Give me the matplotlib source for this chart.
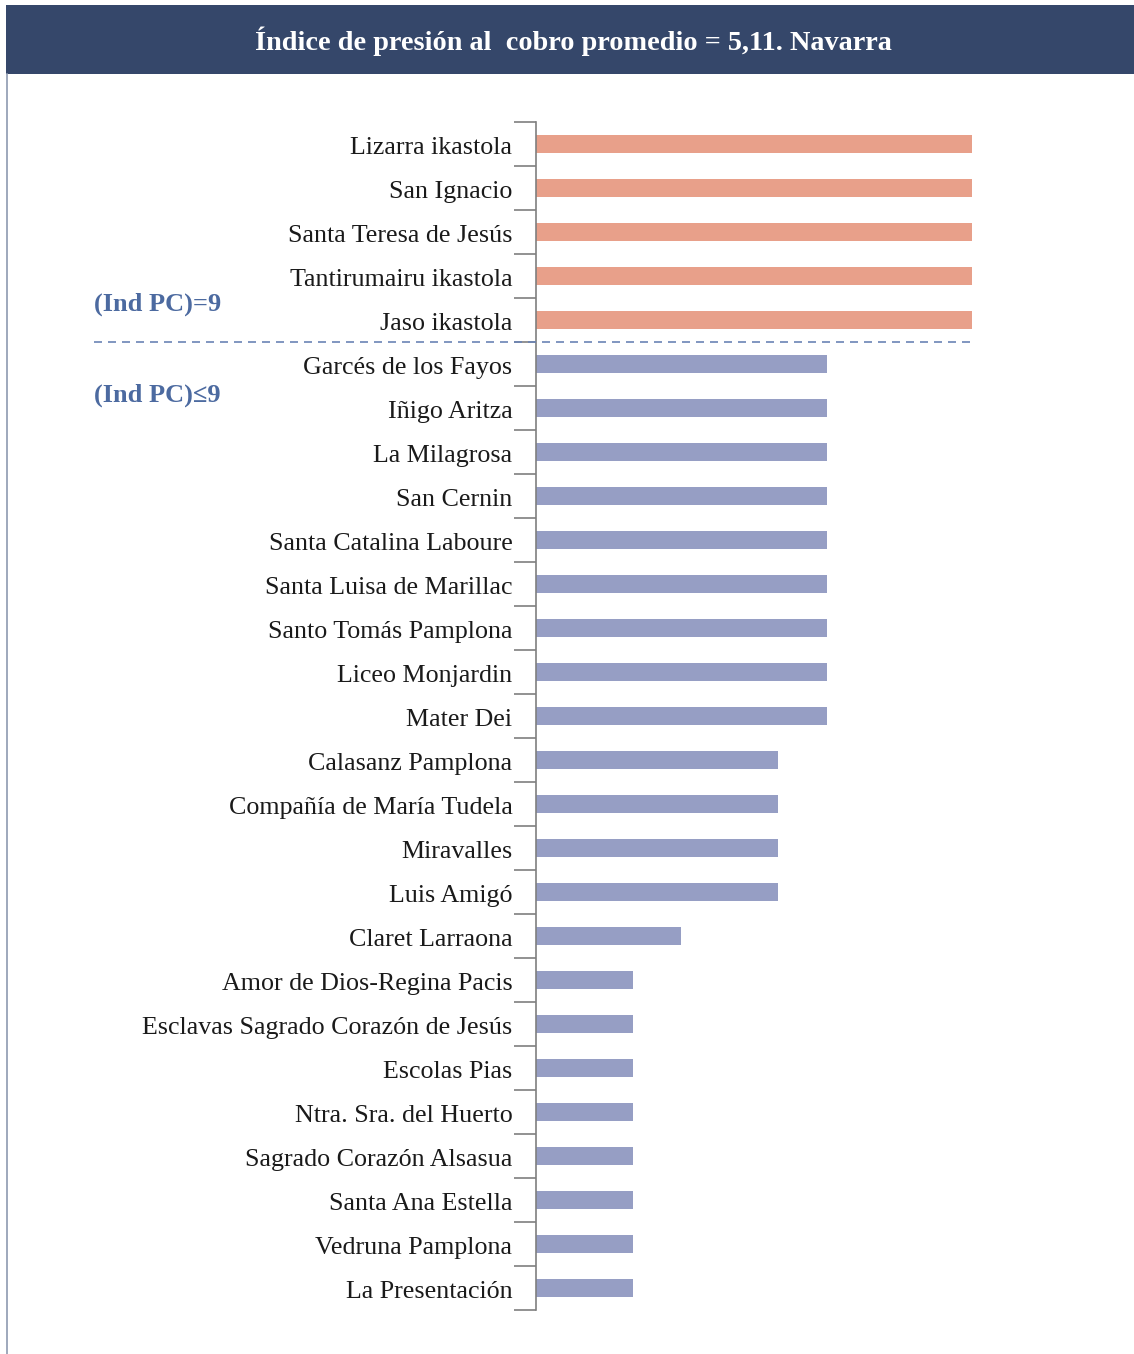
import matplotlib
matplotlib.use("Agg")
import matplotlib.pyplot as plt
from matplotlib.patches import Rectangle
from matplotlib.lines import Line2D
import matplotlib.transforms as mtransforms
import numpy as np

categories = ["Lizarra ikastola", "San Ignacio", "Santa Teresa de Jesús", "Tantirumairu ikastola",
              "Jaso ikastola", "Garcés de los Fayos", "Iñigo Aritza", "La Milagrosa", "San Cernin",
              "Santa Catalina Laboure", "Santa Luisa de Marillac", "Santo Tomás Pamplona",
              "Liceo Monjardin", "Mater Dei", "Calasanz Pamplona", "Compañía de María Tudela",
              "Miravalles", "Luis Amigó", "Claret Larraona", "Amor de Dios-Regina Pacis",
              "Esclavas Sagrado Corazón de Jesús", "Escolas Pias", "Ntra. Sra. del Huerto",
              "Sagrado Corazón Alsasua", "Santa Ana Estella", "Vedruna Pamplona", "La Presentación"]
values = [9, 9, 9, 9, 9, 6, 6, 6, 6, 6, 6, 6, 6, 6, 5, 5, 5, 5, 3, 2, 2, 2, 2, 2, 2, 2, 2]
title = "Índice de presión al  cobro promedio = 5,11. Navarra"
group_labels = ["(Ind PC)=9", "(Ind PC)≤9"]

plt.rcParams['font.family'] = ['Liberation Serif', 'DejaVu Serif']

W, H = 1134, 1354
fig = plt.figure(figsize=(W / 100, H / 100), dpi=100)

# header
fig.patches.append(Rectangle((6 / W, 1 - 74 / H), (W - 6) / W, 69 / H, transform=fig.transFigure,
                             facecolor="#35476A", edgecolor="none", zorder=0))
fig.text(573 / W, 1 - 41 / H, title, color="white", fontsize=20.3, fontweight="bold",
         ha="center", va="center")
# left border line
fig.lines.append(Line2D([6.5 / W, 6.5 / W], [0, 1 - 74 / H], transform=fig.transFigure,
                        color="#8D99B0", lw=1.2))

ax = fig.add_axes([536 / W, 1 - 1310 / H, (972 - 536) / W, (1310 - 122) / H])
n = len(categories)
y = np.arange(n)
colors = ["#E8A08A" if v >= 9 else "#969EC4" for v in values]
ax.barh(y, values, height=0.42, color=colors, zorder=2)
ax.set_xlim(0, 9)
ax.set_ylim(n - 0.5, -0.5)
for s in ["top", "right", "bottom"]:
    ax.spines[s].set_visible(False)
ax.spines["left"].set_color("#7F7F7F")
ax.spines["left"].set_linewidth(1.2)
ax.set_xticks([])
ax.set_yticks(y)
ax.set_yticklabels(categories, fontsize=18.7, color="#1a1a1a")
ax.tick_params(axis="y", which="major", length=0, pad=17)
offset = mtransforms.ScaledTranslation(0, -1.5 / 100, fig.dpi_scale_trans)
for lab in ax.get_yticklabels():
    lab.set_transform(lab.get_transform() + offset)
ax.set_yticks(np.arange(n + 1) - 0.5, minor=True)
ax.tick_params(axis="y", which="minor", length=16, width=1.2, color="#7F7F7F")

# dashed separator
ax.plot([-(536 - 94) / 436 * 9, 9], [4.5, 4.5], ls=(0, (4.8, 3.6)), color="#6B84B5", lw=1.2,
        clip_on=False, zorder=3)

fig.text(94 / W, 1 - 304 / H, group_labels[0], color="#4C6AA0", fontsize=19, fontweight="bold",
         ha="left", va="center")
fig.text(94 / W, 1 - 395 / H, group_labels[1], color="#4C6AA0", fontsize=19, fontweight="bold",
         ha="left", va="center")

fig.savefig("out.png", dpi=100, facecolor="white")
